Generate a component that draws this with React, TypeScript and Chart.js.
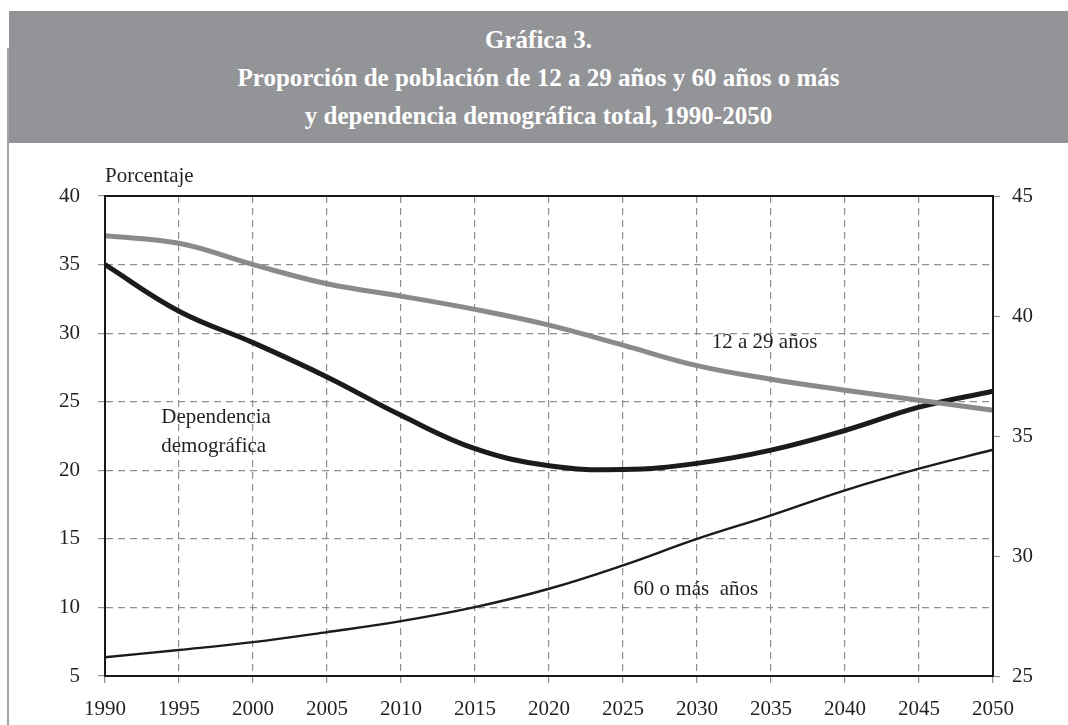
import React, { useEffect, useRef } from "react";
import { Chart, registerables } from "chart.js";

Chart.register(...registerables);

// ---- Data ----
const years = [1990, 1995, 2000, 2005, 2010, 2015, 2020, 2025, 2030, 2035, 2040, 2045, 2050];
// Proporción de población de 12 a 29 años (%), eje izquierdo
const youth = [37.1, 36.55, 35.0, 33.6, 32.7, 31.73, 30.58, 29.12, 27.63, 26.64, 25.84, 25.1, 24.38];
// Proporción de población de 60 años o más (%), eje izquierdo
const elderly = [6.37, 6.9, 7.47, 8.2, 9.0, 10.02, 11.36, 13.07, 15.0, 16.72, 18.54, 20.12, 21.5];
// Dependencia demográfica total (%), eje derecho
const dependency = [42.14, 40.2, 38.89, 37.46, 35.86, 34.47, 33.76, 33.6, 33.86, 34.41, 35.23, 36.2, 36.87];

const leftMin = 5;
const leftMax = 40;
const rightMin = 25;
const rightMax = 45;
const tickStep = 5;
const yearStep = 5;

const titleLines = [
  "Gráfica 3.",
  "Proporción de población de 12 a 29 años y 60 años o más",
  "y dependencia demográfica total, 1990-2050",
];
const axisTitle = "Porcentaje";

// Inline labels: text, anchor year, anchor value (left axis)
const annoTexts = ["12 a 29 años", "Dependencia", "demográfica", "60 o más  años"];
const annoYears = [2031.0, 1993.8, 1993.8, 2025.7];
const annoValues = [29.3, 23.83, 21.72, 11.34];

const FONT = "'Liberation Serif', 'DejaVu Serif', 'Times New Roman', serif";
const TEXT = "#231f20";
const GRID = "#8f8f8f";

const framePlugin = {
  id: "frameAndLabels",
  afterDraw(chart: any) {
    const { ctx, chartArea, scales } = chart;
    ctx.save();
    ctx.strokeStyle = "#1a1718";
    ctx.lineWidth = 2;
    ctx.strokeRect(chartArea.left, chartArea.top, chartArea.right - chartArea.left, chartArea.bottom - chartArea.top);
    ctx.fillStyle = TEXT;
    ctx.font = `21px ${FONT}`;
    ctx.textBaseline = "middle";
    ctx.textAlign = "left";
    for (let i = 0; i < annoTexts.length; i++) {
      const x = scales.x.getPixelForValue(annoYears[i]);
      const y = scales.y.getPixelForValue(annoValues[i]);
      ctx.fillText(annoTexts[i], x, y);
    }
    ctx.fillText(axisTitle, chartArea.left, chartArea.top - 20);
    ctx.restore();
  },
};

export default function App() {
  const ref = useRef<HTMLCanvasElement | null>(null);

  useEffect(() => {
    if (!ref.current) return;
    const mk = (arr: number[]) => arr.map((v, i) => ({ x: years[i], y: v }));
    const chart = new Chart(ref.current, {
      type: "line",
      data: {
        datasets: [
          {
            label: "12 a 29 años",
            data: mk(youth),
            yAxisID: "y",
            borderColor: "#898a8c",
            borderWidth: 5,
            pointRadius: 0,
            tension: 0.4,
            fill: false,
          },
          {
            label: "Dependencia demográfica",
            data: mk(dependency),
            yAxisID: "y1",
            borderColor: "#1d1a1b",
            borderWidth: 5,
            pointRadius: 0,
            tension: 0.4,
            fill: false,
          },
          {
            label: "60 o más años",
            data: mk(elderly),
            yAxisID: "y",
            borderColor: "#1d1a1b",
            borderWidth: 2.4,
            pointRadius: 0,
            tension: 0.4,
            fill: false,
          },
        ],
      },
      options: {
        responsive: false,
        animation: false,
        events: [],
        layout: { padding: { top: 196, left: 0, right: 0, bottom: 0 } },
        plugins: { legend: { display: false }, title: { display: false }, tooltip: { enabled: false } },
        scales: {
          x: {
            type: "linear",
            min: years[0],
            max: years[years.length - 1],
            afterFit: (s: any) => {
              s.height = 49;
            },
            ticks: {
              stepSize: yearStep,
              callback: (v: any) => String(v),
              font: { family: FONT, size: 21 },
              color: TEXT,
              padding: 14,
              maxRotation: 0,
            },
            grid: { color: GRID, lineWidth: 1.2, tickLength: 7, tickColor: GRID, tickWidth: 1.2 },
            border: { display: true, color: "#1a1718", width: 2, dash: [7, 5] },
          },
          y: {
            position: "left",
            min: leftMin,
            max: leftMax,
            afterFit: (s: any) => {
              s.width = 105;
            },
            ticks: {
              stepSize: tickStep,
              font: { family: FONT, size: 21 },
              color: TEXT,
              padding: 18,
            },
            grid: { color: GRID, lineWidth: 1.2, tickLength: 7, tickColor: GRID, tickWidth: 1.2 },
            border: { display: true, color: "#1a1718", width: 2, dash: [7, 5] },
          },
          y1: {
            position: "right",
            min: rightMin,
            max: rightMax,
            afterFit: (s: any) => {
              s.width = 75;
            },
            ticks: {
              stepSize: tickStep,
              font: { family: FONT, size: 21 },
              color: TEXT,
              padding: 12,
            },
            grid: { drawOnChartArea: false, tickLength: 7, tickColor: GRID, tickWidth: 1.2, color: GRID },
            border: { display: true, color: "#1a1718", width: 2 },
          },
        },
      },
      plugins: [framePlugin],
    } as any);
    return () => chart.destroy();
  }, []);

  return (
    <div style={{ position: "absolute", left: 0, top: 0, width: 1068, height: 725, background: "#fff", overflow: "hidden" }}>
      <canvas ref={ref} width={1068} height={725} style={{ position: "absolute", left: 0, top: 0, width: 1068, height: 725 }} />
      <div
        style={{
          position: "absolute",
          left: 7,
          top: 48,
          width: 2,
          height: 677,
          background: "#a3a3a3",
        }}
      />
      <div
        style={{
          position: "absolute",
          left: 9,
          top: 11,
          width: 1059,
          height: 132,
          boxSizing: "border-box",
          paddingTop: 10,
          background: "#939497",
          color: "#ffffff",
          fontFamily: FONT,
          fontWeight: "bold",
          fontSize: 25,
          lineHeight: "38px",
          textAlign: "center",
        }}
      >
        {titleLines.map((t, i) => (
          <div key={i}>{t}</div>
        ))}
      </div>
    </div>
  );
}
